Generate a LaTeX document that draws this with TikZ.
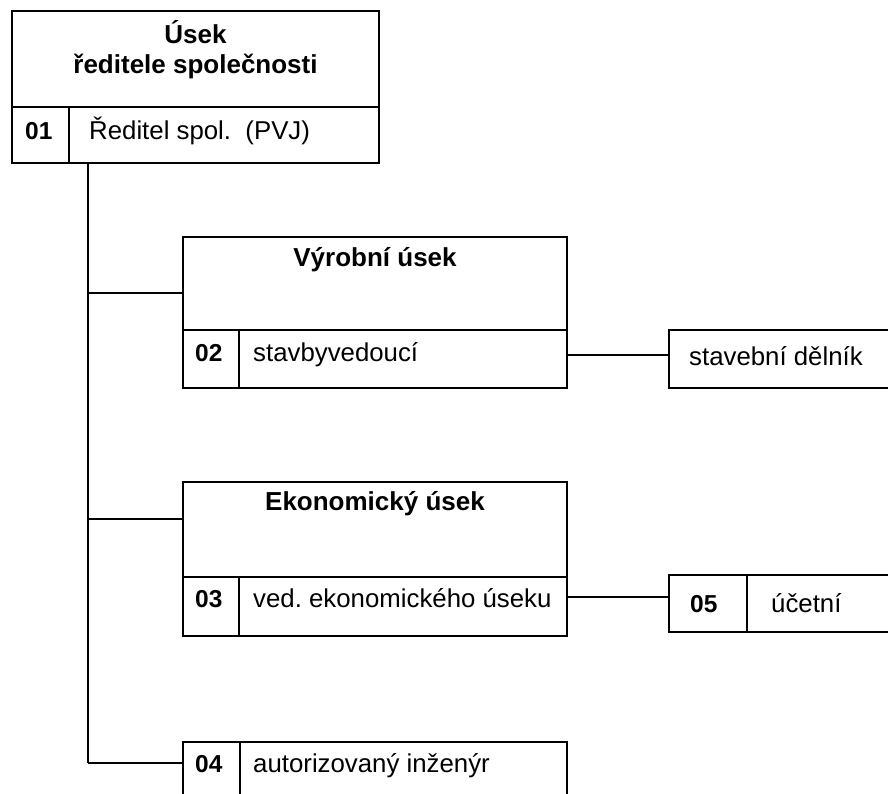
\documentclass[tikz,border=0pt]{standalone}
\usepackage{fontspec}
\setmainfont{Liberation Sans}
\frenchspacing
\usetikzlibrary{positioning}
\tikzset{
  every picture/.style={x=1pt, y=-1pt},
  box/.style={draw, line width=2pt, anchor=north west, inner sep=0pt, outer sep=0pt},
  cell/.style 2 args={box, minimum width=#1pt, minimum height=#2pt},
  head/.style={font=\fontsize{26}{30.5}\selectfont\bfseries, align=center, inner sep=0pt},
  num/.style={font=\fontsize{24.5}{28}\selectfont\bfseries, anchor=base west, inner sep=0pt},
  txt/.style={font=\fontsize{25.8}{30}\selectfont, anchor=base west, inner sep=0pt},
  link/.style={draw, line width=1.5pt},
}

\begin{document}
\begin{tikzpicture}
  \clip (0,0) rectangle (888,793);
  % Usek reditele spolecnosti
  \node[cell={367}{96}] (h1) at (12,11) {};
  \node[cell={57}{56}] (n1) at (12,107) {};
  \node[cell={310}{56}] (t1) at (69,107) {};
  \node[head, anchor=north] (h1-lbl) at (195.5,20) {Úsek\\ředitele společnosti};
  \node[num] (n1-lbl) at (25,139) {01};
  \node[txt] (t1-lbl) at (89,139) {Ředitel spol.\ \ (PVJ)};
  % Vyrobni usek
  \node[cell={384}{93}] (h2) at (183,237) {};
  \node[cell={56}{58}] (n2) at (183,330) {};
  \node[cell={328}{58}] (t2) at (239,330) {};
  \node[head, anchor=base] (h2-lbl) at (375,266) {Výrobní úsek};
  \node[num] (n2-lbl) at (195,361) {02};
  \node[txt] (t2-lbl) at (253,361) {stavbyvedoucí};
  \node[cell={231}{58}] (w2) at (669,330) {};
  \node[txt] (w2-lbl) at (689,365) {stavební dělník};
  % Ekonomicky usek
  \node[cell={384}{95}] (h3) at (183,482) {};
  \node[cell={56}{59}] (n3) at (183,577) {};
  \node[cell={328}{59}] (t3) at (239,577) {};
  \node[head, anchor=base] (h3-lbl) at (375,510) {Ekonomický úsek};
  \node[num] (n3-lbl) at (195,607) {03};
  \node[txt] (t3-lbl) at (253,607) {ved. ekonomického úseku};
  \node[cell={78}{57}] (n5) at (669,575) {};
  \node[cell={153}{57}] (t5) at (747,575) {};
  \node[num] (n5-lbl) at (690,612) {05};
  \node[txt] (t5-lbl) at (771,612) {účetní};
  % autorizovany inzenyr
  \node[cell={57}{58}] (n4) at (183,742) {};
  \node[cell={327}{58}] (t4) at (240,742) {};
  \node[num] (n4-lbl) at (195,772) {04};
  \node[txt] (t4-lbl) at (253,772) {autorizovaný inženýr};
  % connectors
  \coordinate (trunk) at ([xshift=19pt]t1.south west);
  \coordinate (b2) at ([yshift=-9.5pt]h2.west);
  \coordinate (b3) at ([yshift=10.5pt]h3.west);
  \coordinate (b4) at ([yshift=8pt]n4.west);
  \draw[link] (trunk) -- (trunk |- b4);
  \draw[link] (trunk |- b2) -- (b2);
  \draw[link] (trunk |- b3) -- (b3);
  \draw[link] (trunk |- b4) -- (b4);
  \draw[link] ([yshift=4pt]t2.east) -- ([yshift=4pt]w2.west);
  \draw[link] ([yshift=9.5pt]t3.east) -- ([yshift=9.5pt]t3.east -| n5.west);
\end{tikzpicture}
\end{document}
